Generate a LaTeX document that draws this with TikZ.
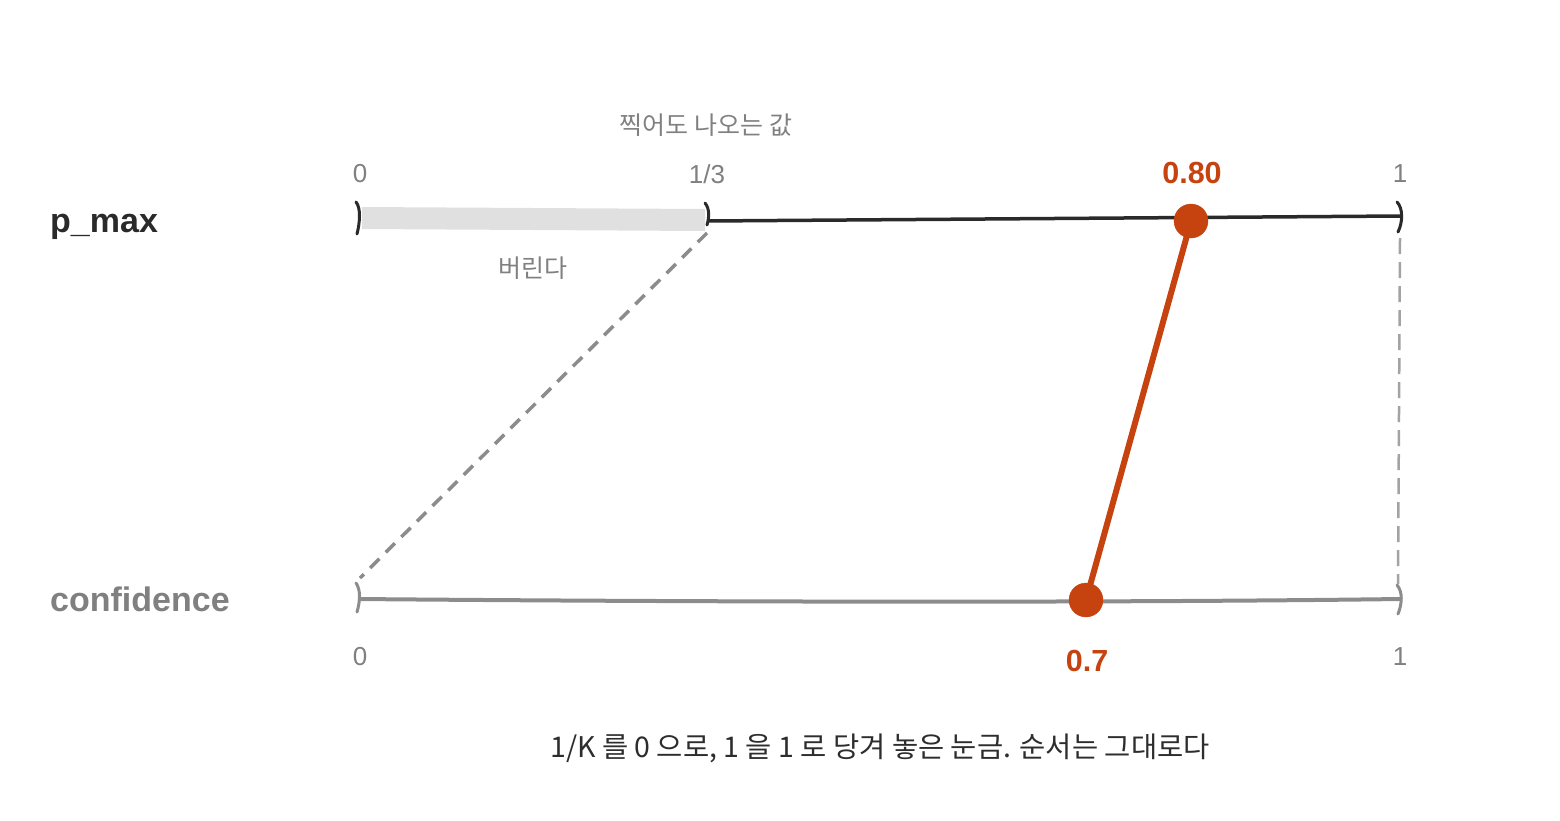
\documentclass[tikz,border=0pt]{standalone}
\usepackage{fontspec}
\setmainfont{Liberation Sans}
\newfontfamily\cjk{Noto Sans CJK KR}
\definecolor{orng}{RGB}{198,66,14}
\definecolor{dark}{RGB}{42,42,42}
\definecolor{midgrey}{RGB}{140,140,140}
\definecolor{lblgrey}{RGB}{128,128,128}
\definecolor{band}{RGB}{224,224,224}
\definecolor{capt}{RGB}{45,45,45}
\begin{document}
\begin{tikzpicture}[x=1pt,y=-1pt,
  lbl/.style={inner sep=0pt,text=lblgrey,font=\fontsize{26}{30}\selectfont},
  ko/.style={inner sep=0pt,text=lblgrey,font=\cjk\fontsize{25}{29}\selectfont},
  hilbl/.style={inner sep=0pt,text=orng,font=\bfseries\fontsize{30.5}{34}\selectfont},
  rowlbl/.style={inner sep=0pt,anchor=base west,font=\bfseries\fontsize{34}{38}\selectfont},
  tickmark/.style={line width=3pt,line cap=round},
  dot/.style={circle,fill=orng,draw=orng,minimum size=34pt,inner sep=0pt},
  guide/.style={draw=midgrey,line width=3.5pt,dash pattern=on 13pt off 9pt},
  guideright/.style={draw=midgrey!80,line width=2.5pt,dash pattern=on 16pt off 8pt}]
\useasboundingbox (0,0) rectangle (1560,820);
% coordinates
\coordinate (t0) at (358,219);
\coordinate (t3) at (707,221);
\coordinate (t1) at (1400,216);
\coordinate (b0) at (358,599);
\coordinate (b1) at (1400,599);
% discarded band
\fill[band] (362,207) -- (705,209) -- (705,231) -- (362,229) -- cycle;
% top axis
\draw[dark,line width=3.5pt] (t3) -- (t1);
% bottom axis
\draw[midgrey,line width=4pt] (b0) .. controls (700,602) and (1100,603) .. (b1);
% ticks
\draw[tickmark,dark] (356,202) .. controls (361,208) and (360,222) .. (357,234);
\draw[tickmark,dark] (705,203) .. controls (710,209) and (709,218) .. (707,225);
\draw[tickmark,dark] (1397,202) .. controls (1403,208) and (1403,222) .. (1398,232);
\draw[tickmark,midgrey] (356,583) .. controls (361,590) and (360,602) .. (357,612);
\draw[tickmark,midgrey] (1397,585) .. controls (1403,592) and (1402,604) .. (1398,614);
% guides
\draw[guide] (707,233) -- (360,578);
\draw[guideright] (1400,238) -- (1398,584);
% mapping
\node[dot] (p80) at (1191,221) {};
\node[dot] (c70) at (1086,600) {};
\draw[orng,line width=6pt] (p80.center) -- (c70.center);
% labels
\node[rowlbl,text=dark] (pmax) at (50,232) {p\_max};
\node[rowlbl,text=lblgrey] (conf) at (50,611) {confidence};
\node[lbl] (l0) at (360,174) {0};
\node[lbl] (l3) at (707,174) {1/3};
\node[lbl] (l1) at (1400,174) {1};
\node[hilbl] (l80) at (1192,173) {0.80};
\node[lbl] (m0) at (360,657) {0};
\node[lbl] (m1) at (1400,657) {1};
\node[hilbl] (m7) at (1087,661) {0.7};
\node[ko] (guess) at (706,125) {찍어도 나오는 값};
\node[ko] (drop) at (533,268) {버린다};
\node[inner sep=0pt,text=capt,font=\cjk\fontsize{28.5}{32}\selectfont] (cap) at (880,748) {1/K 를 0 으로, 1 을 1 로 당겨 놓은 눈금. 순서는 그대로다};
\end{tikzpicture}
\end{document}
